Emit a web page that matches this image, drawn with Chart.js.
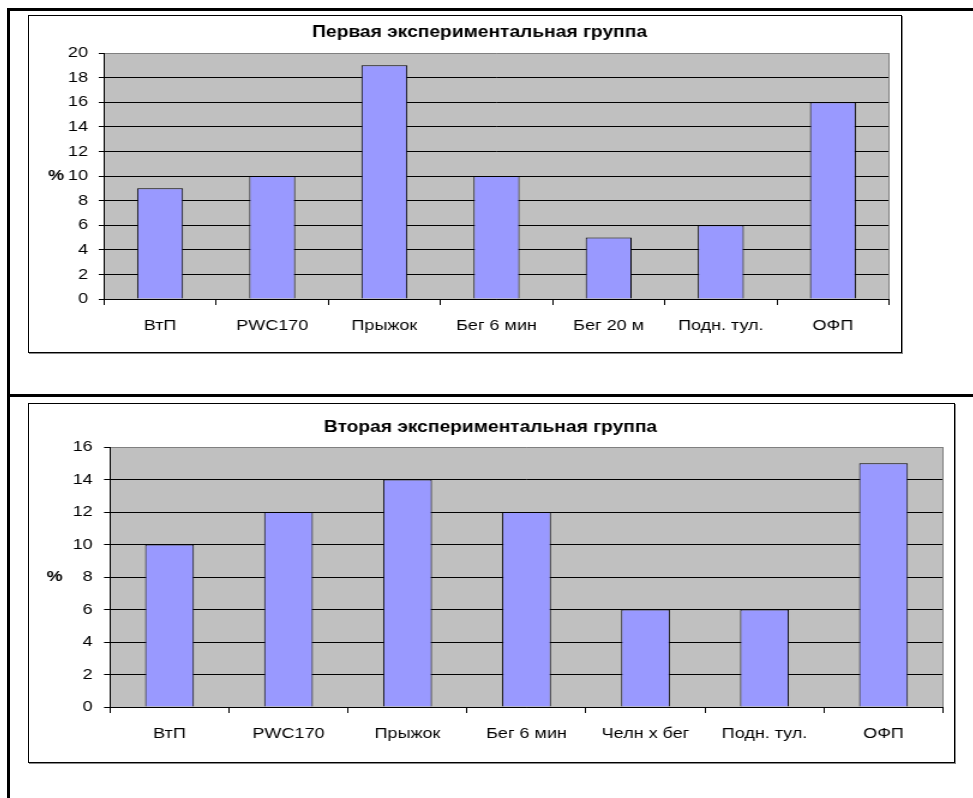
<!DOCTYPE html>
<html lang="ru">
<head>
<meta charset="utf-8">
<title>Экспериментальные группы</title>
<script src="https://cdn.jsdelivr.net/npm/chart.js@4/dist/chart.umd.min.js"></script>
<style>
  html, body { margin: 0; padding: 0; background: #fff; }
  body { position: relative; width: 973px; height: 798px; overflow: hidden; }
  .rule { position: absolute; background: #000; }
  .box { position: absolute; box-sizing: border-box; border: 1px solid #000; box-shadow: 1px 1px 0 #8a8a8a; background: #fff; }
  canvas.stretched { position: absolute; transform: scaleX(1.2); transform-origin: 0 0; }
</style>
</head>
<body>
<!-- table rules around the two charts -->
<div class="rule" style="left:7px; top:8px; width:966px; height:3px;"></div>
<div class="rule" style="left:7px; top:8px; width:3px; height:790px;"></div>
<div class="rule" style="left:7px; top:394px; width:966px; height:3px;"></div>

<div class="box" style="left:28px; top:15px; width:874px; height:338px;"></div>
<div class="box" style="left:28px; top:403px; width:927px; height:360px;"></div>

<canvas id="group1" class="stretched" width="728" height="338" style="left:28px; top:15px;"></canvas>
<canvas id="group2" class="stretched" width="773" height="360" style="left:28px; top:403px;"></canvas>

<script>
// Group 1: improvement per test, %
const categories1 = ['ВтП', 'PWC170', 'Прыжок', 'Бег 6 мин', 'Бег 20 м', 'Подн. тул.', 'ОФП'];
const values1 = [9, 10, 19, 10, 5, 6, 16];
const yMax1 = 20;

// Group 2: improvement per test, %
const categories2 = ['ВтП', 'PWC170', 'Прыжок', 'Бег 6 мин', 'Челн х бег', 'Подн. тул.', 'ОФП'];
const values2 = [10, 12, 14, 12, 6, 6, 15];
const yMax2 = 16;

const yStep = 2;
const title1 = 'Первая экспериментальная группа';
const title2 = 'Вторая экспериментальная группа';
const axisLabel = '%';

const FONT = "'Liberation Sans', Arial, sans-serif";

function buildChart(canvasId, labels, values, yMax, title, lay) {
  const decor = {
    id: 'decor',
    beforeDraw(chart) {
      const { ctx, chartArea: a } = chart;
      ctx.save();
      ctx.fillStyle = '#C0C0C0';
      ctx.fillRect(a.left, a.top, a.right - a.left, a.bottom - a.top);
      ctx.restore();
    },
    beforeDatasetsDraw(chart) {
      const { ctx, chartArea: a } = chart;
      ctx.save();
      ctx.strokeStyle = '#808080';
      ctx.lineWidth = 1;
      const x = Math.round(a.right) - 0.5;
      ctx.beginPath();
      ctx.moveTo(x, a.top);
      ctx.lineTo(x, a.bottom);
      ctx.stroke();
      ctx.restore();
    },
    afterDraw(chart) {
      const { ctx, chartArea: a } = chart;
      ctx.save();
      ctx.fillStyle = '#000';
      ctx.textAlign = 'center';
      ctx.textBaseline = 'middle';
      ctx.font = 'bold 16px ' + FONT;
      ctx.fillText(title, lay.titleX, lay.titleY);
      ctx.font = 'bold 15px ' + FONT;
      ctx.fillText(axisLabel, lay.unitX, (a.top + a.bottom) / 2);
      ctx.restore();
    }
  };

  return new Chart(document.getElementById(canvasId), {
    type: 'bar',
    data: {
      labels: labels,
      datasets: [{
        data: values,
        backgroundColor: '#9999FF',
        borderColor: '#000',
        borderWidth: 1,
        barPercentage: 0.41,
        categoryPercentage: 1
      }]
    },
    options: {
      responsive: false,
      animation: false,
      events: [],
      layout: { padding: { top: lay.top, right: lay.right, left: 0, bottom: 0 } },
      plugins: {
        legend: { display: false },
        tooltip: { enabled: false },
        title: { display: false }
      },
      scales: {
        x: {
          grid: { display: true, drawOnChartArea: false, drawTicks: true, tickLength: 6, color: '#000', offset: true },
          border: { display: true, color: '#000', width: 1 },
          ticks: { color: '#000', font: { family: FONT, size: 15 }, padding: 12, maxRotation: 0, autoSkip: false },
          afterFit(s) { s.height = lay.xHeight; }
        },
        y: {
          min: 0,
          max: yMax,
          ticks: { stepSize: yStep, color: '#000', font: { family: FONT, size: 15 }, padding: lay.tickPad },
          grid: {
            color: c => (c.tick && c.tick.value === yMax) ? '#808080' : '#000',
            tickColor: '#000',
            tickLength: lay.tickLen,
            lineWidth: 1
          },
          border: { display: true, color: '#000', width: 1 },
          afterFit(s) { s.width = lay.yWidth; }
        }
      }
    },
    plugins: [decor]
  });
}

buildChart('group1', categories1, values1, yMax1, title1, {
  top: 38, right: 10.5, xHeight: 54, yWidth: 63.33, tickLen: 4.4, tickPad: 8.9,
  titleX: 376.3, titleY: 17.5, unitX: 23.3
});

buildChart('group2', categories2, values2, yMax2, title2, {
  top: 44, right: 10.5, xHeight: 56, yWidth: 68.33, tickLen: 5, tickPad: 9.4,
  titleX: 385.4, titleY: 25, unitX: 22.1
});
</script>
</body>
</html>
